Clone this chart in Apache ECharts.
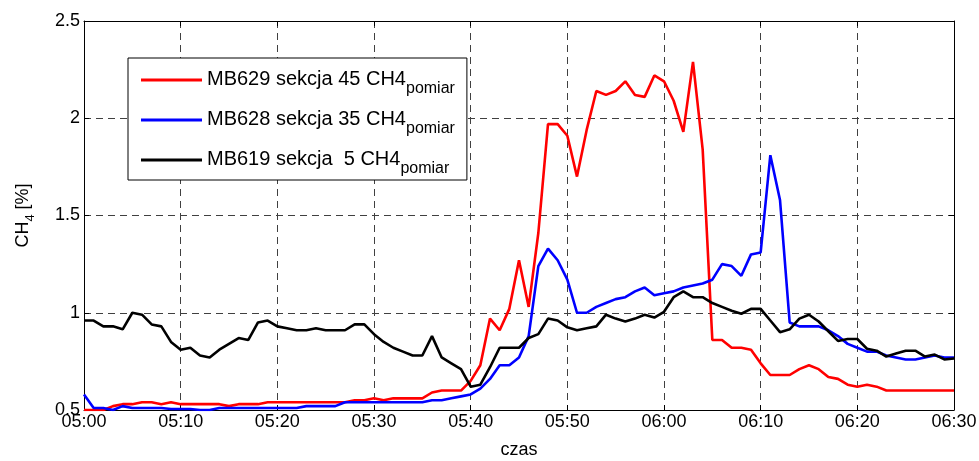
<!DOCTYPE html>
<html>
<head>
<meta charset="utf-8">
<script src="https://cdn.jsdelivr.net/npm/echarts@6/dist/echarts.min.js"></script>
<style>
  html, body { margin: 0; padding: 0; background: #fff; }
  #chart { width: 979px; height: 461px; }
</style>
</head>
<body>
<div id="chart"></div>
<script>
// pomiary co 1 minute, 05:00 - 06:30
var startHour = 5;
var sampleCount = 91;
var yTicks = [0.5, 1, 1.5, 2, 2.5];

var seriesNames = ['MB629 sekcja 45 CH4', 'MB628 sekcja 35 CH4', 'MB619 sekcja  5 CH4'];
var seriesColors = ['#ff0000', '#0000ff', '#000000'];

var mb629 = [
  0.50, 0.50, 0.50, 0.52, 0.53, 0.53, 0.54, 0.54, 0.53, 0.54,
  0.53, 0.53, 0.53, 0.53, 0.53, 0.52, 0.53, 0.53, 0.53, 0.54,
  0.54, 0.54, 0.54, 0.54, 0.54, 0.54, 0.54, 0.54, 0.55, 0.55,
  0.56, 0.55, 0.56, 0.56, 0.56, 0.56, 0.59, 0.60, 0.60, 0.60,
  0.65, 0.73, 0.97, 0.91, 1.02, 1.27, 1.03, 1.41, 1.97, 1.97,
  1.91, 1.70, 1.94, 2.14, 2.12, 2.14, 2.19, 2.12, 2.11, 2.22,
  2.19, 2.09, 1.93, 2.29, 1.84, 0.86, 0.86, 0.82, 0.82, 0.81,
  0.74, 0.68, 0.68, 0.68, 0.71, 0.73, 0.71, 0.67, 0.66, 0.63,
  0.62, 0.63, 0.62, 0.60, 0.60, 0.60, 0.60, 0.60, 0.60, 0.60,
  0.60
];
var mb628 = [
  0.58, 0.51, 0.51, 0.50, 0.52, 0.51, 0.51, 0.51, 0.51, 0.505,
  0.505, 0.505, 0.50, 0.50, 0.51, 0.51, 0.51, 0.51, 0.51, 0.51,
  0.51, 0.51, 0.51, 0.52, 0.52, 0.52, 0.52, 0.54, 0.54, 0.54,
  0.54, 0.54, 0.54, 0.54, 0.54, 0.54, 0.55, 0.55, 0.56, 0.57,
  0.58, 0.61, 0.66, 0.73, 0.73, 0.77, 0.88, 1.24, 1.33, 1.27,
  1.17, 1.00, 1.00, 1.03, 1.05, 1.07, 1.08, 1.11, 1.13, 1.09,
  1.10, 1.11, 1.13, 1.14, 1.15, 1.17, 1.25, 1.24, 1.19, 1.30,
  1.31, 1.81, 1.58, 0.95, 0.93, 0.93, 0.93, 0.91, 0.88, 0.84,
  0.82, 0.80, 0.80, 0.78, 0.77, 0.76, 0.76, 0.77, 0.78, 0.77,
  0.77
];
var mb619 = [
  0.96, 0.96, 0.93, 0.93, 0.915, 1.00, 0.99, 0.94, 0.93, 0.85,
  0.81, 0.82, 0.78, 0.77, 0.81, 0.84, 0.87, 0.86, 0.95, 0.96,
  0.93, 0.92, 0.91, 0.91, 0.92, 0.91, 0.91, 0.91, 0.94, 0.94,
  0.89, 0.85, 0.82, 0.80, 0.78, 0.78, 0.88, 0.77, 0.74, 0.71,
  0.62, 0.63, 0.72, 0.82, 0.82, 0.82, 0.87, 0.89, 0.97, 0.96,
  0.925, 0.91, 0.92, 0.93, 0.99, 0.97, 0.955, 0.97, 0.99, 0.975,
  1.005, 1.08, 1.11, 1.08, 1.08, 1.05, 1.03, 1.01, 0.995, 1.02,
  1.02, 0.96, 0.90, 0.915, 0.97, 0.99, 0.955, 0.905, 0.855, 0.865,
  0.865, 0.815, 0.805, 0.775, 0.79, 0.805, 0.805, 0.775, 0.785, 0.76,
  0.765
];

// etykiety czasu HH:MM
var times = [];
for (var i = 0; i < sampleCount; i++) {
  var h = startHour + Math.floor(i / 60), m = i % 60;
  times.push((h < 10 ? '0' : '') + h + ':' + (m < 10 ? '0' : '') + m);
}

var font = '"Liberation Sans", Arial, sans-serif';
var gridDash = { color: '#404040', width: 1, type: [7, 5] };
var black = { color: '#000', width: 1 };

var chart = echarts.init(document.getElementById('chart'));
chart.setOption({
  animation: false,
  backgroundColor: '#fff',
  grid: { left: 84, right: 25, top: 21, bottom: 51, containLabel: false, outerBoundsMode: 'none' },
  legend: {
    orient: 'vertical',
    left: 128,
    top: 58,
    backgroundColor: '#fff',
    borderColor: '#000',
    borderWidth: 1,
    borderRadius: 0,
    padding: [11, 12, 3, 13],
    icon: 'rect',
    itemWidth: 61,
    itemHeight: 3,
    itemGap: 12,
    data: seriesNames,
    formatter: function (n) { return '{a|' + n + '}{s|pomiar}'; },
    textStyle: {
      color: '#000',
      fontFamily: font,
      rich: {
        a: { fontSize: 20, lineHeight: 22, verticalAlign: 'top', fontFamily: font, color: '#000' },
        s: { fontSize: 16, lineHeight: 16, padding: [12, 0, 0, 0], verticalAlign: 'top', fontFamily: font, color: '#000' }
      }
    }
  },
  xAxis: [{
    type: 'category',
    data: times,
    boundaryGap: false,
    position: 'bottom',
    name: 'czas',
    nameLocation: 'middle',
    nameGap: 31,
    nameTextStyle: { color: '#000', fontSize: 18, fontFamily: font },
    axisLine: { lineStyle: black },
    axisTick: { inside: true, length: 5, interval: 9, lineStyle: black },
    axisLabel: { interval: 9, color: '#000', fontSize: 18, fontFamily: font, margin: 3 },
    splitLine: { show: true, interval: 9, lineStyle: gridDash }
  }, {
    type: 'category',
    data: times,
    boundaryGap: false,
    position: 'top',
    axisLine: { lineStyle: black },
    axisTick: { inside: true, length: 5, interval: 9, lineStyle: black },
    axisLabel: { show: false },
    splitLine: { show: false }
  }],
  yAxis: [{
    type: 'value',
    min: yTicks[0],
    max: yTicks[yTicks.length - 1],
    interval: 0.5,
    name: '{a|CH}{s|4}{a| [%]}',
    nameLocation: 'middle',
    nameRotate: 90,
    nameGap: 50,
    nameTextStyle: {
      color: '#000',
      fontFamily: font,
      rich: {
        a: { fontSize: 18, lineHeight: 20, verticalAlign: 'top', fontFamily: font, color: '#000' },
        s: { fontSize: 13, lineHeight: 14, padding: [10, 0, 0, 0], verticalAlign: 'top', fontFamily: font, color: '#000' }
      }
    },
    axisLine: { show: true, lineStyle: black },
    axisTick: { show: true, inside: true, length: 5, lineStyle: black },
    axisLabel: { color: '#000', fontSize: 18, fontFamily: font, margin: 4 },
    splitLine: { show: true, lineStyle: gridDash }
  }, {
    type: 'value',
    position: 'right',
    min: yTicks[0],
    max: yTicks[yTicks.length - 1],
    interval: 0.5,
    axisLine: { show: true, lineStyle: black },
    axisTick: { show: true, inside: true, length: 5, lineStyle: black },
    axisLabel: { show: false },
    splitLine: { show: false }
  }],
  series: [mb629, mb628, mb619].map(function (d, k) {
    return {
      name: seriesNames[k],
      type: 'line',
      xAxisIndex: 0,
      yAxisIndex: 0,
      data: d,
      symbol: 'none',
      lineStyle: { color: seriesColors[k], width: 2.6 },
      itemStyle: { color: seriesColors[k] }
    };
  })
});
</script>
</body>
</html>
